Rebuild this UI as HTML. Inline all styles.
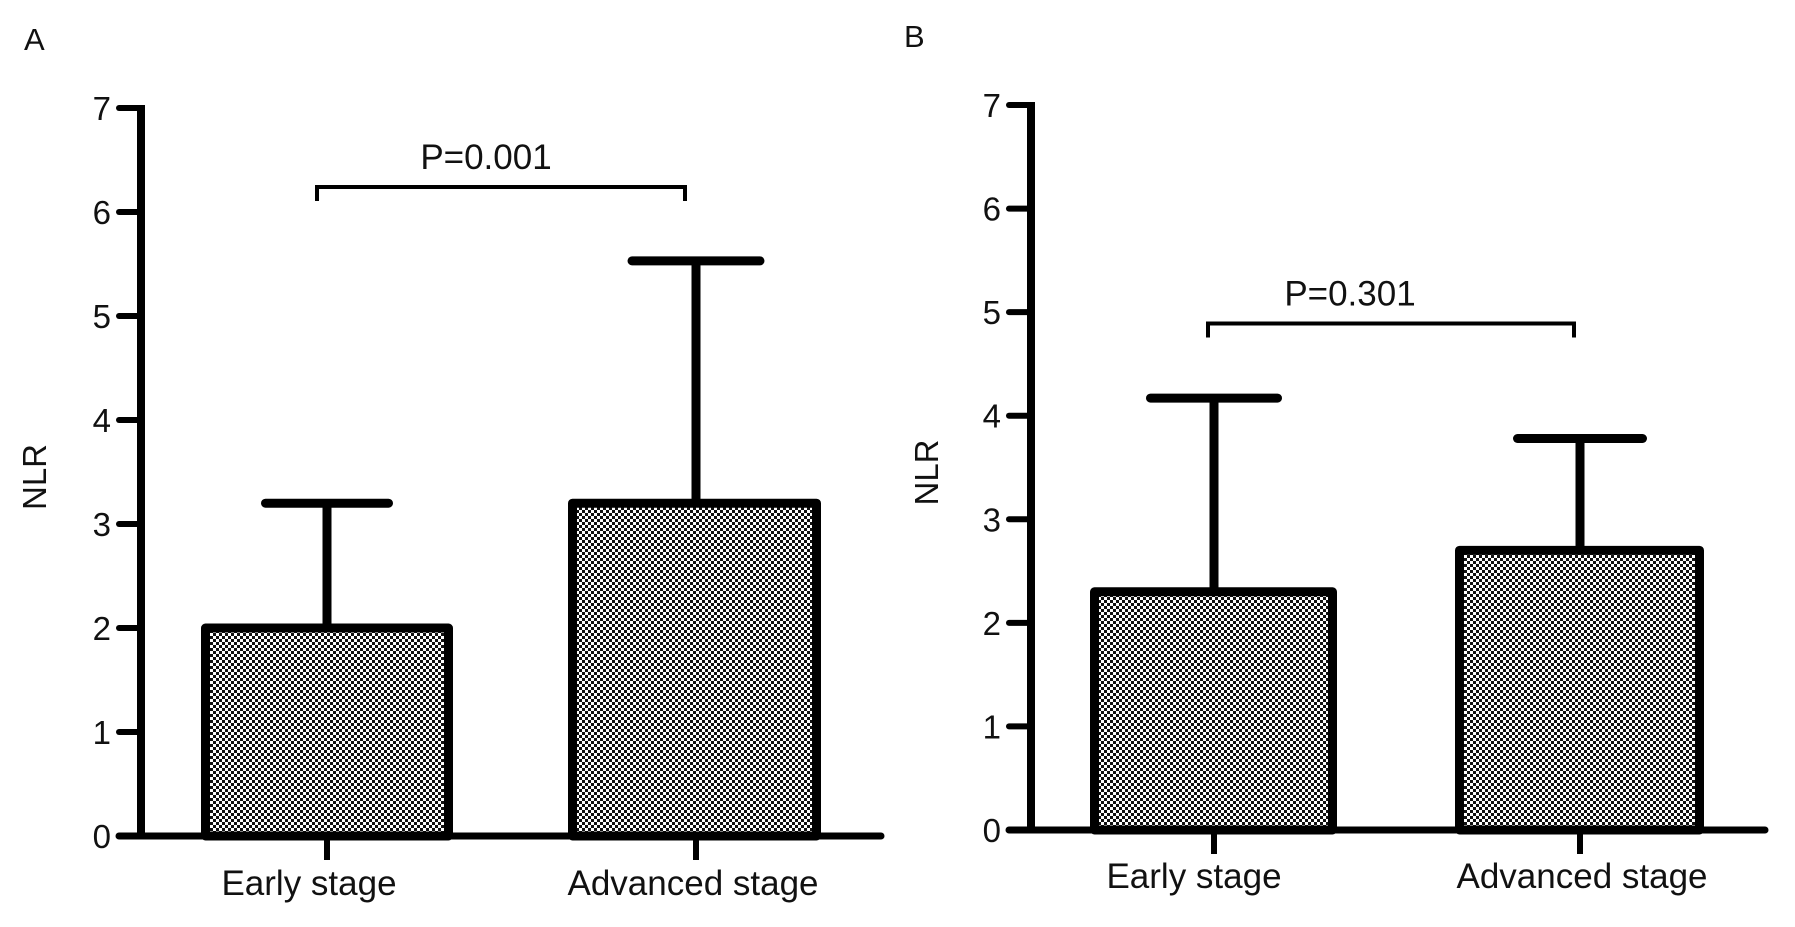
<!DOCTYPE html>
<html><head><meta charset="utf-8"><style>
html,body{margin:0;padding:0;background:#fff;}
svg{display:block;font-family:"Liberation Sans",Arial,sans-serif;}
</style></head><body>
<svg id="chart" width="1795" height="927" viewBox="0 0 1795 927">
<defs>
<pattern id="dots" width="6" height="6" patternUnits="userSpaceOnUse">
<rect width="6" height="6" fill="#fff"/>
<rect x="0" y="0" width="3" height="3" fill="#111"/>
<rect x="3" y="3" width="3" height="3" fill="#111"/>
</pattern>
</defs>
</svg>
<script>
const categories = ["Early stage", "Advanced stage"];
const meansA = [2.0, 3.2];
const errorsA = [3.2, 5.53];
const meansB = [2.3, 2.7];
const errorsB = [4.17, 3.78];
const yTicks = [0,1,2,3,4,5,6,7];
const pLabels = ["P=0.001", "P=0.301"];
const bracketLevels = [6.24, 4.89];

const NS = "http://www.w3.org/2000/svg";
const svg = document.getElementById("chart");
function mk(tag, attrs, parent){
  const e = document.createElementNS(NS, tag);
  for (const k in attrs) e.setAttribute(k, attrs[k]);
  (parent||svg).appendChild(e);
  return e;
}
const panels = [
  {letter:"A", lx:24, ly:50, ax:141, y0:836, y7:108, xend:881, bars:[[201,453],[568,821]], stems:[327,696], caps:[123,128], means:meansA, errs:errorsA, p:pLabels[0], br:bracketLevels[0], bx:[317,685], px:486, nlrX:46, lblX:[309,693], lblY:895},
  {letter:"B", lx:904, ly:47, ax:1031, y0:830, y7:105, xend:1765, bars:[[1090,1337],[1455,1704]], stems:[1214,1580], caps:[127,125], means:meansB, errs:errorsB, p:pLabels[1], br:bracketLevels[1], bx:[1208,1574], px:1350, nlrX:938, lblX:[1194,1582], lblY:888}
];
panels.forEach((P, pi) => {
  const g = mk("g", {});
  
  
  const y = v => P.y0 - (P.y0 - P.y7) * v / 7;
  const t = mk("text", {x:P.lx, y:P.ly, "font-size":31, fill:"#111"}, g);
  t.textContent = P.letter;
  
  
  P.means.forEach((m, i) => {
    const r = mk("rect", {x:P.bars[i][0]+4.5, y:y(m), width:P.bars[i][1]-P.bars[i][0]-9, height:P.y0-y(m), fill:"url(#dots)", stroke:"#000", "stroke-width":9, "stroke-linejoin":"round"}, g);
    
    
    const cx = P.stems[i];
    const st = mk("line", {x1:cx, x2:cx, y1:y(m), y2:y(P.errs[i]), stroke:"#000", "stroke-width":9}, g);
    
    
    const cp = mk("line", {x1:cx-P.caps[i]/2, x2:cx+P.caps[i]/2, y1:y(P.errs[i]), y2:y(P.errs[i]), stroke:"#000", "stroke-width":9, "stroke-linecap":"round"}, g);
    
    
    const tk = mk("line", {x1:cx, x2:cx, y1:P.y0, y2:P.y0+24, stroke:"#000", "stroke-width":6}, g);
    
    
    const lb = mk("text", {x:P.lblX[i], y:P.lblY, "font-size":35, "text-anchor":"middle", fill:"#111"}, g);
    lb.textContent = categories[i];
    
    
  });
  const ya = mk("line", {x1:P.ax, x2:P.ax, y1:P.y7-3, y2:P.y0+3, stroke:"#000", "stroke-width":8}, g);
  
  
  const xa = mk("line", {x1:P.ax-22, x2:P.xend, y1:P.y0, y2:P.y0, stroke:"#000", "stroke-width":7, "stroke-linecap":"round"}, g);
  
  
  yTicks.forEach(v => {
    const tk = mk("line", {x1:P.ax-22, x2:P.ax, y1:y(v), y2:y(v), stroke:"#000", "stroke-width":6, "stroke-linecap":"round"}, g);
    
    
    const tl = mk("text", {x:P.ax-30, y:y(v)+12, "font-size":33, "text-anchor":"end", fill:"#111"}, g);
    tl.textContent = v;
    
    
  });
  const cy = (P.y0+P.y7)/2 + 5;
  const nl = mk("text", {x:P.nlrX, y:cy, "font-size":33, "text-anchor":"middle", fill:"#111", transform:`rotate(-90 ${P.nlrX} ${cy})`}, g);
  nl.textContent = "NLR";
  
  
  const by = y(P.br);
  const br = mk("path", {d:`M${P.bx[0]} ${by+14} V${by} H${P.bx[1]} V${by+14}`, fill:"none", stroke:"#000", "stroke-width":4}, g);
  
  
  const pt = mk("text", {x:P.px, y:by-18, "font-size":35, "text-anchor":"middle", fill:"#111"}, g);
  pt.textContent = P.p;
  
  
});
</script>
</body></html>
